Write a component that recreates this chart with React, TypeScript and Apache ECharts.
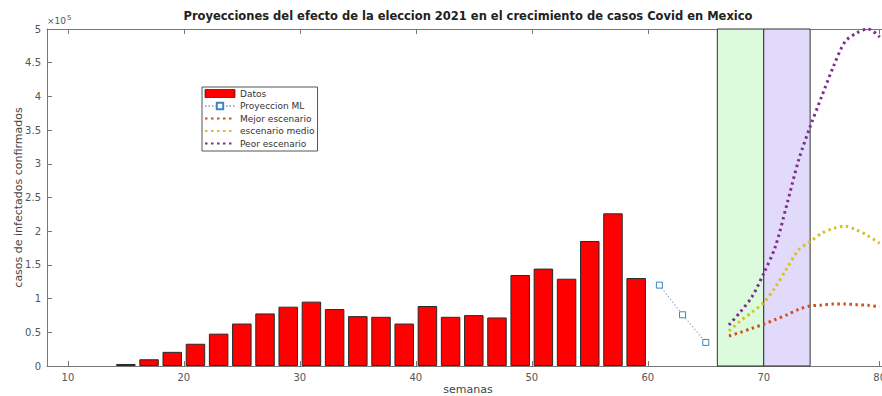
import React, { useEffect, useRef } from "react";
import * as echarts from "echarts";

const titleText =
  "Proyecciones del efecto de la eleccion 2021 en el crecimiento de casos Covid en Mexico";

const datosWeeks = [15, 17, 19, 21, 23, 25, 27, 29, 31, 33, 35, 37, 39, 41, 43, 45, 47, 49, 51, 53, 55, 57, 59];
const datosValues = [3000, 10000, 21000, 33000, 48000, 63000, 78000, 88000, 95500, 84500, 74000, 73000, 63000, 89000, 73000, 75500, 72000, 135000, 144500, 129500, 185500, 226500, 130500];

const projWeeks = [61, 63, 65];
const projValues = [120000, 76000, 35000];

const scenWeeks = [67, 68, 69, 70, 71, 72, 73, 74, 75, 76, 77, 78, 79, 80];
const mejorValues = [44500, 50000, 56000, 62000, 69000, 76000, 84000, 89000, 90500, 92000, 92000, 91000, 90000, 88000];
const medioValues = [52000, 67000, 80000, 94000, 117000, 145000, 172000, 184500, 197000, 204000, 207500, 202000, 193000, 182000];
const peorValues = [60800, 80600, 103000, 137500, 177000, 240000, 305000, 355000, 400000, 444000, 481000, 494000, 500000, 488000];

const xTicks = [10, 20, 30, 40, 50, 60, 70, 80];
const eleccionRange = [66, 70];
const postRange = [70, 74];

const FONT = "DejaVu Sans";

export default function App() {
  const ref = useRef<HTMLDivElement>(null);
  useEffect(() => {
    if (!ref.current) return;
    const chart = echarts.init(ref.current, null, { renderer: "svg" });
    const zip = (xs: number[], ys: number[]) => xs.map((x, i) => [x, ys[i]]);
    const dotted = (color: string) => ({
      color,
      width: 3,
      type: [2.5, 3.5] as number[],
    });
    const noSymbol = { color: "rgba(0,0,0,0)", borderColor: "rgba(0,0,0,0)", borderWidth: 0 };
    chart.setOption({
      animation: false,
      textStyle: { fontFamily: FONT },
      grid: { left: 47, right: 1, top: 29, bottom: 30, containLabel: false, outerBoundsMode: "none" },
      graphic: [
        {
          type: "text",
          x: 468,
          y: 16,
          style: {
            text: titleText,
            align: "center",
            verticalAlign: "middle",
            fontSize: 11.5,
            fontWeight: "bold",
            fontFamily: FONT,
            fill: "#222",
          },
        },
        {
          type: "text",
          x: 47,
          y: 21,
          style: {
            text: "{a|×10}{b|5}",
            align: "left",
            verticalAlign: "middle",
            rich: {
              a: { fontSize: 9, fontFamily: FONT, fill: "#555", color: "#555" },
              b: { fontSize: 7, fontFamily: FONT, fill: "#555", color: "#555", verticalAlign: "top", padding: [0, 0, 6, 1] },
            },
          },
        },
      ],
      legend: {
        orient: "vertical",
        left: 202,
        top: 87,
        data: [
          { name: "Datos", icon: "rect", itemStyle: { borderWidth: 0.8 } },
          { name: "Proyeccion ML" },
          { name: "Mejor escenario", itemStyle: noSymbol },
          { name: "escenario medio", itemStyle: noSymbol },
          { name: "Peor escenario", itemStyle: noSymbol },
        ],
        itemWidth: 30,
        itemHeight: 8,
        itemGap: 3.5,
        padding: [2, 3, 3, 2],
        borderColor: "#555",
        borderWidth: 1,
        backgroundColor: "#fff",
        textStyle: { fontSize: 9, color: "#333", fontFamily: FONT },
      },
      xAxis: [
        {
          type: "value",
          min: 8.2,
          max: 80.8,
          name: "semanas",
          nameLocation: "middle",
          nameGap: 18,
          nameMoveOverlap: false,
          nameTextStyle: { fontSize: 11, color: "#444", fontFamily: FONT },
          axisLine: { show: true, onZero: false, lineStyle: { color: "#777" } },
          axisTick: { show: true, inside: true, length: 5, customValues: xTicks, lineStyle: { color: "#777" } },
          axisLabel: { customValues: xTicks, color: "#555", fontSize: 10, margin: 6, fontFamily: FONT },
          splitLine: { show: false },
        },
        {
          type: "value",
          position: "top",
          min: 8.2,
          max: 80.8,
          axisLine: { show: true, onZero: false, lineStyle: { color: "#777" } },
          axisTick: { show: true, inside: true, length: 5, customValues: xTicks, lineStyle: { color: "#777" } },
          axisLabel: { show: false },
          splitLine: { show: false },
        },
      ],
      yAxis: {
        type: "value",
        min: 0,
        max: 500000,
        interval: 50000,
        name: "casos de infectados confirmados",
        nameLocation: "middle",
        nameGap: 23,
        nameMoveOverlap: false,
        nameTextStyle: { fontSize: 11, color: "#444", fontFamily: FONT },
        axisLine: { show: true, lineStyle: { color: "#777" } },
        axisTick: { show: true, inside: true, length: 5, lineStyle: { color: "#777" } },
        axisLabel: {
          color: "#555",
          fontSize: 10,
          margin: 6,
          fontFamily: FONT,
          formatter: (v: number) => String(v / 100000),
        },
        splitLine: { show: false },
      },
      series: [
        {
          name: "Datos",
          type: "bar",
          barWidth: 19.5,
          data: zip(datosWeeks, datosValues),
          itemStyle: { color: "#ff0000", borderColor: "#2a2a2a", borderWidth: 1 },
          markArea: {
            silent: true,
            label: { show: false },
            data: [
              [
                { xAxis: eleccionRange[0], itemStyle: { color: "#dcfbdc", borderColor: "#333", borderWidth: 1 } },
                { xAxis: eleccionRange[1] },
              ],
              [
                { xAxis: postRange[0], itemStyle: { color: "#e1dafb", borderColor: "#333", borderWidth: 1 } },
                { xAxis: postRange[1] },
              ],
            ],
          },
        },
        {
          name: "Proyeccion ML",
          type: "line",
          data: zip(projWeeks, projValues),
          symbol: "rect",
          symbolSize: 6,
          showAllSymbol: true,
          itemStyle: { color: "#fff", borderColor: "#3d86bb", borderWidth: 1 },
          lineStyle: { color: "#9bb3c6", width: 1.2, type: [1.5, 2] },
        },
        {
          name: "Mejor escenario",
          type: "line",
          data: zip(scenWeeks, mejorValues),
          smooth: 0.3,
          symbol: "none",
          itemStyle: { color: "#c9531f" },
          lineStyle: dotted("#c9531f"),
          clip: true,
        },
        {
          name: "escenario medio",
          type: "line",
          data: zip(scenWeeks, medioValues),
          smooth: 0.3,
          symbol: "none",
          itemStyle: { color: "#d6c21a" },
          lineStyle: dotted("#d6c21a"),
          clip: true,
        },
        {
          name: "Peor escenario",
          type: "line",
          data: zip(scenWeeks, peorValues),
          smooth: 0.3,
          symbol: "none",
          itemStyle: { color: "#7e2f8e" },
          lineStyle: dotted("#7e2f8e"),
          clip: true,
        },
      ],
    });
    return () => chart.dispose();
  }, []);
  return (
    <div
      ref={ref}
      style={{ position: "fixed", left: 0, top: 0, width: 890, height: 396, background: "#fff" }}
    />
  );
}
